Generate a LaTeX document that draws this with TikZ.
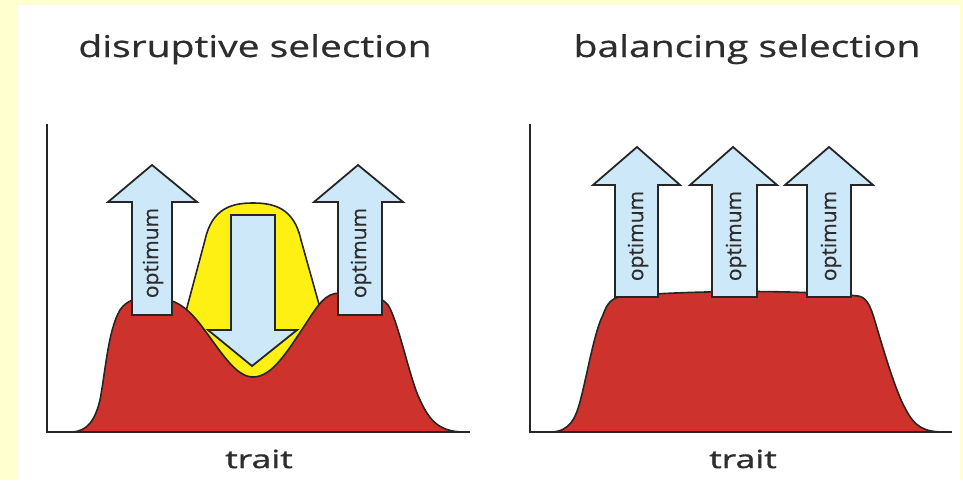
\documentclass[tikz,border=0pt]{standalone}
\usepackage{fontspec}
\setmainfont{Open Sans}
\newfontfamily\titlefont[FakeStretch=1.3,FakeBold=0.6]{Open Sans}
\newfontfamily\traitfont[FakeStretch=1.42,FakeBold=1.2]{Open Sans}
\newfontfamily\optfont[FakeBold=0.4]{Open Sans}
\definecolor{bgyellow}{RGB}{255,255,208}
\definecolor{popred}{RGB}{205,50,45}
\definecolor{optblue}{RGB}{205,232,248}
\definecolor{blobyellow}{RGB}{255,240,20}
\definecolor{inkgray}{RGB}{45,45,45}
\tikzset{
  axisline/.style={line width=2pt, draw=black!85},
  popshape/.style={fill=popred, draw=black!85, line width=1.6pt},
  blobshape/.style={fill=blobyellow, draw=black!85, line width=1.6pt},
  arrowshape/.style={fill=optblue, draw=black!85, line width=1.8pt, line join=miter},
  titletext/.style={font=\titlefont\fontsize{30}{36}\selectfont, text=inkgray, inner sep=0pt, anchor=base},
  traittext/.style={font=\traitfont\fontsize{25}{30}\selectfont, text=inkgray, inner sep=0pt, anchor=base},
  opttext/.style={font=\optfont\fontsize{21}{24}\selectfont, text=inkgray, rotate=90, inner sep=0pt},
}
\begin{document}
\begin{tikzpicture}[x=1pt,y=-1pt]
\useasboundingbox (0,0) rectangle (963,480);
\fill[bgyellow] (0,0) rectangle (963,480);
\fill[white] (18,5) rectangle (960,480);

% titles
\node[titletext] (t1) at (255,57) {disruptive selection};
\node[titletext] (t2) at (747,57) {balancing selection};

% ===== left panel =====
% yellow blob
\draw[blobshape] (185,315) -- (205,240) .. controls (212,208) and (232,203) .. (253,203)
  .. controls (274,203) and (294,208) .. (301,240) -- (322,315) -- (253,410) -- cycle;
% population
\draw[popshape] (72,432) .. controls (88,431) and (95,420) .. (100,400)
  .. controls (105,375) and (108,330) .. (120,310)
  .. controls (127,300) and (135,298) .. (150,298)
  .. controls (172,297) and (185,305) .. (200,324)
  .. controls (220,350) and (235,377) .. (253,377)
  .. controls (272,377) and (287,352) .. (305,325)
  .. controls (318,305) and (325,293) .. (340,293)
  .. controls (365,293) and (380,295) .. (388,305)
  .. controls (398,320) and (410,380) .. (420,400)
  .. controls (430,422) and (440,431) .. (462,432) -- cycle;
% axes
\coordinate (o1) at (47,432);
\coordinate (y1) at (47,124);
\coordinate (x1) at (470,432);
\draw[axisline] (y1) -- (o1) -- (x1);
% arrows
\draw[arrowshape] (132,315) -- (132,202) -- (108,202) -- (152,165) -- (197,202) -- (172,202) -- (172,315) -- cycle;
\draw[arrowshape] (338,315) -- (338,202) -- (314,202) -- (358,165) -- (403,202) -- (382,202) -- (382,315) -- cycle;
\draw[arrowshape] (231,215) -- (275,215) -- (275,330) -- (297,330) -- (252,366) -- (208,330) -- (231,330) -- cycle;
\node[opttext] (o1a) at (153,253) {optimum};
\node[opttext] (o1b) at (361,253) {optimum};
\node[traittext] (tr1) at (259,468) {trait};

% ===== right panel =====
\draw[popshape] (550,432) .. controls (570,432) and (576,418) .. (581,398)
  .. controls (588,370) and (595,330) .. (603,315)
  .. controls (607,303) and (612,297) .. (625,296)
  .. controls (700,290) and (800,290) .. (858,296)
  .. controls (866,297) and (870,305) .. (874,318)
  .. controls (882,345) and (895,390) .. (905,408)
  .. controls (915,428) and (925,432) .. (945,432) -- cycle;
\coordinate (o2) at (530,432);
\coordinate (y2) at (530,124);
\coordinate (x2) at (952,432);
\draw[axisline] (y2) -- (o2) -- (x2);
\draw[arrowshape] (615,297) -- (615,185) -- (593,185) -- (637,147) -- (680,185) -- (658,185) -- (658,297) -- cycle;
\draw[arrowshape] (712,297) -- (712,185) -- (690,185) -- (733,147) -- (777,185) -- (757,185) -- (757,297) -- cycle;
\draw[arrowshape] (807,297) -- (807,185) -- (785,185) -- (829,147) -- (873,185) -- (851,185) -- (851,297) -- cycle;
\node[opttext] (o2a) at (638,236) {optimum};
\node[opttext] (o2b) at (736,236) {optimum};
\node[opttext] (o2c) at (831,236) {optimum};
\node[traittext] (tr2) at (743,468) {trait};
\end{tikzpicture}
\end{document}
